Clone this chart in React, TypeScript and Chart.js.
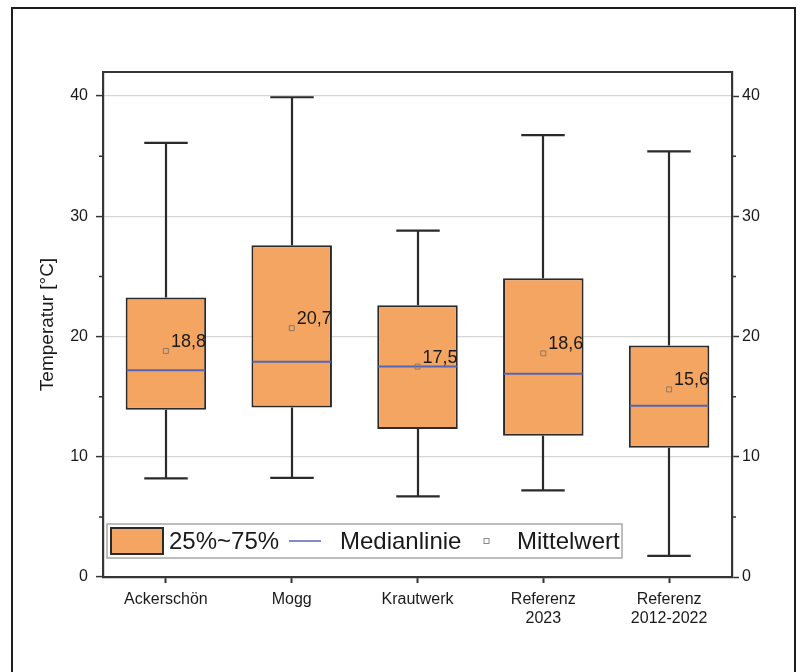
import { useEffect, useRef } from 'react';
import { Chart, registerables } from 'chart.js';

Chart.register(...registerables);

const categories: string[][] = [['Ackerschön'], ['Mogg'], ['Krautwerk'], ['Referenz', '2023'], ['Referenz', '2012-2022']];
const whiskerMax = [36.1, 39.9, 28.8, 36.75, 35.4];
const q3 = [23.25, 27.6, 22.6, 24.85, 19.25];
const medians = [17.2, 17.9, 17.5, 16.9, 14.25];
const q1 = [13.9, 14.1, 12.3, 11.75, 10.75];
const whiskerMin = [8.2, 8.25, 6.7, 7.2, 1.75];
const means = [18.8, 20.7, 17.5, 18.6, 15.6];
const meanLabels = ['18,8', '20,7', '17,5', '18,6', '15,6'];
const minorTicks = [5, 15, 25, 35];
const legendLabels = ['25%~75%', 'Medianlinie', 'Mittelwert'];

const ORANGE = '#F4A561';
const DARK = '#2a2a2a';
const AXIS = '#353535';
const BLUE = '#5566b8';
const MEAN = '#8c7866';
const TEXT = '#1a1a1a';
const FONT = 'Arial, "Liberation Sans", sans-serif';

const extras = {
  id: 'boxExtras',
  beforeDraw(chart: any) {
    const ctx = chart.ctx;
    ctx.save();
    ctx.fillStyle = '#ffffff';
    ctx.fillRect(0, 0, chart.width, chart.height);
    ctx.strokeStyle = '#1e1e1e';
    ctx.lineWidth = 2;
    ctx.strokeRect(12, 8, 783, 700);
    ctx.restore();
  },
  beforeDatasetsDraw(chart: any) {
    const ctx = chart.ctx;
    const y = chart.scales.y;
    const meta = chart.getDatasetMeta(0);
    ctx.save();
    ctx.strokeStyle = DARK;
    ctx.lineWidth = 2.2;
    meta.data.forEach((bar: any, i: number) => {
      const x = Math.round(bar.x);
      const half = bar.width * 0.27;
      const yMax = y.getPixelForValue(whiskerMax[i]);
      const yMin = y.getPixelForValue(whiskerMin[i]);
      ctx.beginPath();
      ctx.moveTo(x, yMax);
      ctx.lineTo(x, y.getPixelForValue(q3[i]));
      ctx.moveTo(x, y.getPixelForValue(q1[i]));
      ctx.lineTo(x, yMin);
      ctx.moveTo(x - half, yMax);
      ctx.lineTo(x + half, yMax);
      ctx.moveTo(x - half, yMin);
      ctx.lineTo(x + half, yMin);
      ctx.stroke();
    });
    ctx.restore();
  },
  afterDatasetDraw(chart: any, args: any) {
    if (args.index !== 0) return;
    const ctx = chart.ctx;
    const y = chart.scales.y;
    const meta = chart.getDatasetMeta(0);
    ctx.save();
    ctx.strokeStyle = BLUE;
    ctx.lineWidth = 2;
    meta.data.forEach((bar: any, i: number) => {
      const ym = y.getPixelForValue(medians[i]);
      ctx.beginPath();
      ctx.moveTo(bar.x - bar.width / 2 + 1, ym);
      ctx.lineTo(bar.x + bar.width / 2 - 1, ym);
      ctx.stroke();
    });
    ctx.restore();
  },
  afterDatasetsDraw(chart: any) {
    const ctx = chart.ctx;
    const y = chart.scales.y;
    const area = chart.chartArea;
    const meta = chart.getDatasetMeta(1);
    ctx.save();
    ctx.fillStyle = TEXT;
    ctx.font = `18px ${FONT}`;
    ctx.textAlign = 'left';
    ctx.textBaseline = 'alphabetic';
    meta.data.forEach((pt: any, i: number) => {
      ctx.fillText(meanLabels[i], pt.x + 5, pt.y - 4);
    });
    // top frame line
    ctx.strokeStyle = AXIS;
    ctx.lineWidth = 2.2;
    ctx.beginPath();
    ctx.moveTo(area.left - 1, area.top);
    ctx.lineTo(area.right + 1, area.top);
    ctx.stroke();
    // minor ticks
    ctx.lineWidth = 1.5;
    minorTicks.forEach((v) => {
      const yy = y.getPixelForValue(v);
      ctx.beginPath();
      ctx.moveTo(area.left, yy);
      ctx.lineTo(area.left - 4, yy);
      ctx.moveTo(area.right, yy);
      ctx.lineTo(area.right + 4, yy);
      ctx.stroke();
    });
    ctx.restore();
  },
  afterDraw(chart: any) {
    const ctx = chart.ctx;
    ctx.save();
    const lx = 107, ly = 524, lw = 515, lh = 34;
    ctx.fillStyle = '#ffffff';
    ctx.fillRect(lx, ly, lw, lh);
    ctx.strokeStyle = '#a8a8a8';
    ctx.lineWidth = 1.5;
    ctx.strokeRect(lx, ly, lw, lh);
    const cy = ly + lh / 2;
    ctx.fillStyle = ORANGE;
    ctx.fillRect(111, ly + 4, 52, lh - 8);
    ctx.strokeStyle = DARK;
    ctx.lineWidth = 2;
    ctx.strokeRect(111, ly + 4, 52, lh - 8);
    ctx.fillStyle = TEXT;
    ctx.font = `24px ${FONT}`;
    ctx.textBaseline = 'middle';
    ctx.textAlign = 'left';
    ctx.fillText(legendLabels[0], 169, cy + 1);
    ctx.strokeStyle = BLUE;
    ctx.lineWidth = 1.5;
    ctx.beginPath();
    ctx.moveTo(289, cy);
    ctx.lineTo(321, cy);
    ctx.stroke();
    ctx.fillText(legendLabels[1], 340, cy + 1);
    ctx.strokeStyle = '#8a8a8a';
    ctx.lineWidth = 1;
    ctx.strokeRect(484, cy - 2.5, 5, 5);
    ctx.fillText(legendLabels[2], 517, cy + 1);
    ctx.restore();
  },
};

export default function App() {
  const ref = useRef<HTMLCanvasElement | null>(null);
  useEffect(() => {
    if (!ref.current) return;
    const chart = new Chart(ref.current, {
      type: 'bar',
      data: {
        labels: categories as any,
        datasets: [
          {
            type: 'bar',
            label: legendLabels[0],
            data: q1.map((v, i) => [v, q3[i]]) as any,
            backgroundColor: ORANGE,
            borderColor: DARK,
            borderWidth: 2,
            borderSkipped: false,
            barPercentage: 0.64,
            categoryPercentage: 1,
            order: 2,
          } as any,
          {
            type: 'line',
            label: legendLabels[2],
            data: means,
            showLine: false,
            pointStyle: 'rect',
            pointRadius: 3.5,
            borderColor: MEAN,
            backgroundColor: 'rgba(0,0,0,0)',
            pointBorderWidth: 1,
            order: 1,
          } as any,
        ],
      },
      options: {
        responsive: false,
        animation: false,
        layout: { padding: { top: 72, left: 0, right: 0, bottom: 0 } },
        plugins: { legend: { display: false }, tooltip: { enabled: false } },
        scales: {
          x: {
            type: 'category',
            offset: true,
            afterFit: (s: any) => { s.height = 95; },
            grid: { display: true, drawOnChartArea: false, drawTicks: true, offset: false, tickLength: 6, tickColor: AXIS, tickWidth: 2 },
            border: { display: true, color: AXIS, width: 2.2 },
            ticks: { color: TEXT, font: { family: FONT, size: 16 }, padding: 7, maxRotation: 0, autoSkip: false },
          },
          y: {
            type: 'linear',
            position: 'left',
            min: 0,
            max: 42,
            afterFit: (s: any) => { s.width = 103; },
            afterBuildTicks: (s: any) => { s.ticks = s.ticks.filter((t: any) => t.value % 10 === 0); },
            ticks: { stepSize: 10, color: TEXT, font: { family: FONT, size: 16 }, padding: 8 },
            grid: {
              color: (c: any) => (c.tick && c.tick.value !== 0 ? '#d6d6d6' : 'rgba(0,0,0,0)'),
              lineWidth: 1.2,
              tickColor: AXIS,
              tickLength: 7,
              tickWidth: 1.5,
            },
            border: { display: true, color: AXIS, width: 2.2 },
            title: { display: true, text: 'Temperatur [°C]', color: TEXT, font: { family: FONT, size: 19 }, padding: { top: 36, bottom: 0 } },
          },
          y2: {
            type: 'linear',
            position: 'right',
            min: 0,
            max: 42,
            afterFit: (s: any) => { s.width = 68; },
            afterBuildTicks: (s: any) => { s.ticks = s.ticks.filter((t: any) => t.value % 10 === 0); },
            ticks: { stepSize: 10, color: TEXT, font: { family: FONT, size: 16 }, padding: 3 },
            grid: { drawOnChartArea: false, tickColor: AXIS, tickLength: 7, tickWidth: 1.5 },
            border: { display: true, color: AXIS, width: 2.2 },
          },
        },
      } as any,
      plugins: [extras],
    });
    return () => chart.destroy();
  }, []);
  return (
    <canvas
      ref={ref}
      width={800}
      height={672}
      style={{ position: 'fixed', left: 0, top: 0, width: 800, height: 672 }}
    />
  );
}
